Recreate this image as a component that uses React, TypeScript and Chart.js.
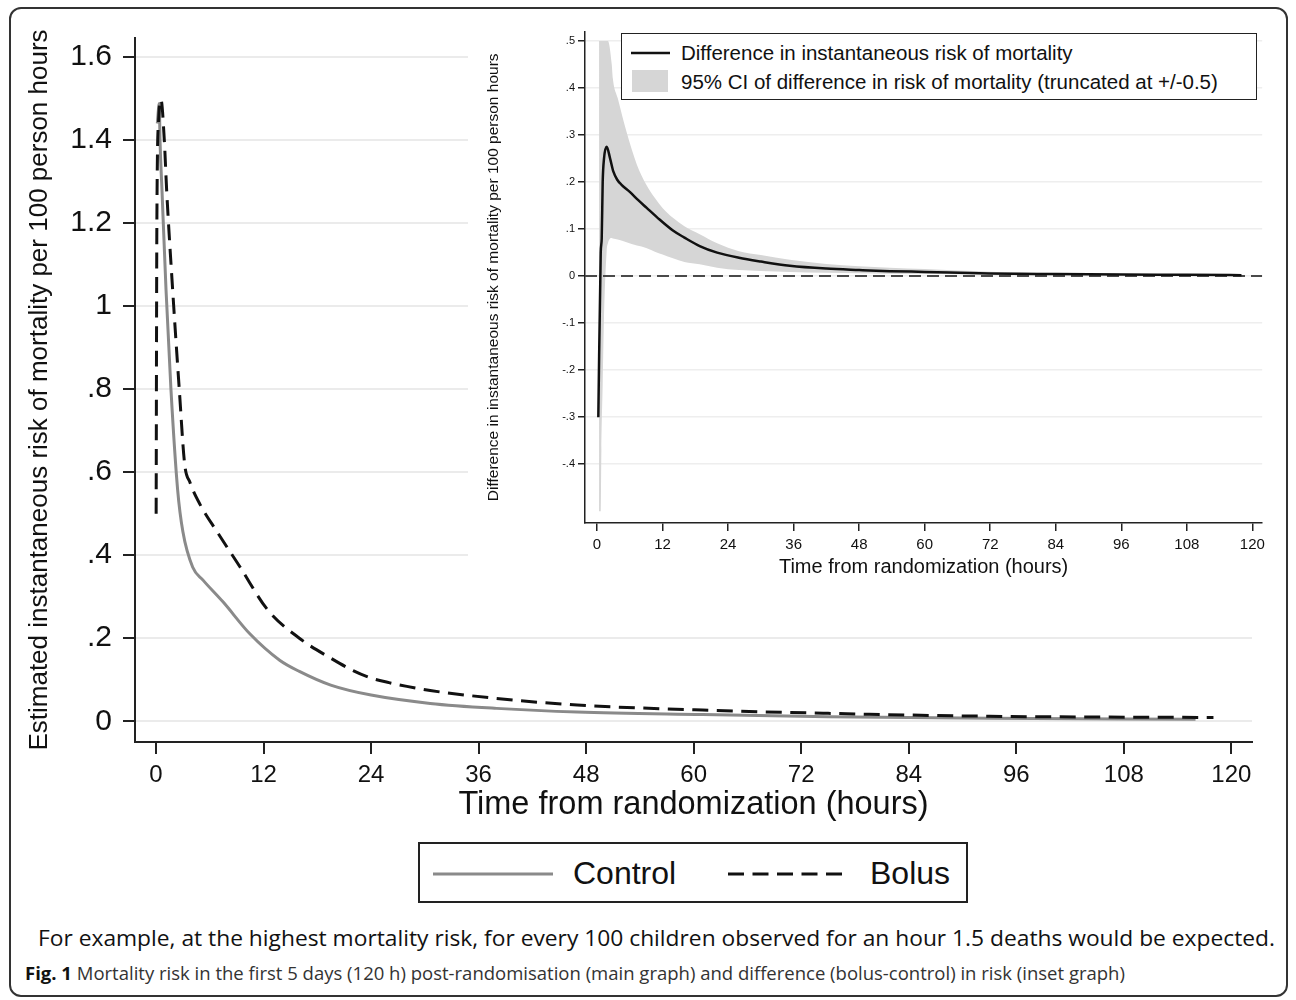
import React, { useEffect, useRef } from 'react';
import { Chart, registerables } from 'chart.js';

Chart.register(...registerables);

// ---------- data ----------
const controlHours = [0.15, 0.37, 0.45, 0.67, 1.12, 1.67, 2.42, 3.0, 4.1, 5.25, 7.5, 10.5, 13.8, 16, 19.5, 24, 30.6, 38, 47, 61, 75, 93, 116];
const controlRisk = [1.44, 1.488, 1.4, 1.28, 1.04, 0.8, 0.557, 0.457, 0.371, 0.34, 0.287, 0.21, 0.147, 0.12, 0.087, 0.063, 0.043, 0.031, 0.022, 0.016, 0.011, 0.007, 0.005];

const bolusHours = [0.02, 0.1, 0.3, 0.56, 0.93, 1.19, 1.86, 2.6, 3.2, 3.8, 4.9, 6.8, 9.4, 12.4, 16, 19.5, 22, 24, 26, 28, 30.6, 38, 47, 61, 75, 93, 118];
const bolusRisk = [0.5, 1.2, 1.45, 1.497, 1.4, 1.28, 1.04, 0.8, 0.62, 0.575, 0.523, 0.457, 0.371, 0.27, 0.2, 0.152, 0.122, 0.104, 0.093, 0.084, 0.074, 0.055, 0.039, 0.027, 0.019, 0.012, 0.009];

const diffHours = [0.24, 0.68, 0.86, 1.04, 1.28, 1.77, 2.4, 3.0, 3.7, 4.5, 6, 7.5, 9.1, 11, 13.9, 16, 18.8, 22, 26, 30, 35.3, 42, 48, 53.6, 60, 71.8, 84, 96, 108, 118];
const diffRisk = [-0.3, 0.05, 0.08, 0.2, 0.25, 0.275, 0.25, 0.222, 0.205, 0.194, 0.179, 0.162, 0.145, 0.125, 0.097, 0.082, 0.064, 0.05, 0.039, 0.031, 0.022, 0.016, 0.013, 0.0106, 0.009, 0.0057, 0.0045, 0.0035, 0.0028, 0.002];

const ciHours = [0.37, 0.68, 0.8, 1.04, 1.28, 1.77, 2.0, 2.7, 2.9, 3.8, 5.4, 7.3, 9.0, 10.6, 12, 13.9, 16, 18.8, 22, 26, 30, 35.3, 42, 48, 53.6, 60, 66, 72, 77, 84, 96, 108, 118];
const ciUpper = [0.5, 0.5, 0.5, 0.5, 0.5, 0.5, 0.5, 0.45, 0.42, 0.378, 0.307, 0.237, 0.195, 0.166, 0.145, 0.124, 0.106, 0.089, 0.07, 0.053, 0.045, 0.035, 0.026, 0.021, 0.018, 0.015, 0.012, 0.0095, 0.008, 0.0065, 0.005, 0.0035, 0.0025];
const ciLower = [-0.5, -0.5, -0.37, -0.23, -0.088, 0.053, 0.07, 0.081, 0.08, 0.078, 0.072, 0.065, 0.06, 0.052, 0.046, 0.038, 0.03, 0.025, 0.018, 0.013, 0.011, 0.009, 0.007, 0.006, 0.005, 0.0045, 0.004, 0.0035, 0.003, 0.003, 0.0025, 0.002, 0.0015];

const zeroReference = 0;

const xTickValues = [0, 12, 24, 36, 48, 60, 72, 84, 96, 108, 120];
const xTickLabels = ['0', '12', '24', '36', '48', '60', '72', '84', '96', '108', '120'];
const mainYTickValues = [0, 0.2, 0.4, 0.6, 0.8, 1, 1.2, 1.4, 1.6];
const mainYTickLabels = ['0', '.2', '.4', '.6', '.8', '1', '1.2', '1.4', '1.6'];
const insetYTickValues = [-0.4, -0.3, -0.2, -0.1, 0, 0.1, 0.2, 0.3, 0.4, 0.5];
const insetYTickLabels = ['-.4', '-.3', '-.2', '-.1', '0', '.1', '.2', '.3', '.4', '.5'];

const mainXRange = [-2.34, 122.3];
const mainYRange = [-0.05, 1.646];
const insetXRange = [-2.2, 121.8];
const insetYRange = [-0.525, 0.52];

const mainTitleX = 'Time from randomization (hours)';
const mainTitleY = 'Estimated instantaneous risk of mortality per 100 person hours';
const insetTitleX = 'Time from randomization (hours)';
const insetTitleY = 'Difference in instantaneous risk of mortality per 100 person hours';

// ---------- styling ----------
const FONT = "'Liberation Sans', Arial, Helvetica, sans-serif";
const INK = '#111111';
const AXIS = '#222222';

function pts(xs: number[], ys: number[]) {
  return xs.map((x, i) => ({ x, y: ys[i] }));
}

function MainChart() {
  const ref = useRef<HTMLCanvasElement>(null);
  useEffect(() => {
    if (!ref.current) return;
    const chart = new Chart(ref.current, {
      type: 'line',
      data: {
        datasets: [
          {
            label: 'Bolus',
            data: pts(bolusHours, bolusRisk),
            borderColor: '#111111',
            borderWidth: 3,
            borderDash: [16, 8.5],
            pointRadius: 0,
            cubicInterpolationMode: 'monotone',
            fill: false,
          },
          {
            label: 'Control',
            data: pts(controlHours, controlRisk),
            borderColor: '#8a8a8a',
            borderWidth: 3,
            pointRadius: 0,
            cubicInterpolationMode: 'monotone',
            fill: false,
          },
        ],
      },
      options: {
        responsive: false,
        animation: false,
        events: [],
        layout: { padding: { left: 16, right: 44, top: 38, bottom: 0 } },
        plugins: { legend: { display: false }, tooltip: { enabled: false } },
        scales: {
          x: {
            type: 'linear',
            min: mainXRange[0],
            max: mainXRange[1],
            afterBuildTicks: (s: any) => {
              s.ticks = xTickValues.map((v) => ({ value: v }));
            },
            afterFit: (s: any) => {
              s.height = 98;
            },
            ticks: {
              autoSkip: false,
              maxRotation: 0,
              padding: 7,
              color: INK,
              font: { family: FONT, size: 24 },
              callback: (_v: any, i: number) => xTickLabels[i],
            },
            grid: { drawOnChartArea: false, color: AXIS, tickColor: AXIS, tickLength: 12, tickWidth: 2, lineWidth: 2 },
            border: { color: AXIS, width: 2 },
            title: { display: true, text: mainTitleX, color: INK, font: { family: FONT, size: 32.5 }, padding: { top: 0, bottom: 15 } },
          },
          y: {
            type: 'linear',
            min: mainYRange[0],
            max: mainYRange[1],
            afterBuildTicks: (s: any) => {
              s.ticks = mainYTickValues.map((v) => ({ value: v }));
            },
            afterFit: (s: any) => {
              s.width = 135 - 16;
            },
            ticks: {
              autoSkip: false,
              padding: 11,
              color: INK,
              font: { family: FONT, size: 30 },
              callback: (_v: any, i: number) => mainYTickLabels[i],
            },
            grid: { color: '#ebebeb', lineWidth: 2, tickColor: AXIS, tickLength: 12, tickWidth: 2 },
            border: { color: AXIS, width: 2 },
            title: { display: true, text: mainTitleY, color: INK, font: { family: FONT, size: 26 }, padding: { top: 8, bottom: 0 } },
          },
        },
      },
    } as any);
    return () => chart.destroy();
  }, []);
  return <canvas ref={ref} width={1296} height={840} style={{ position: 'absolute', left: 0, top: 0 }} />;
}

function InsetChart() {
  const ref = useRef<HTMLCanvasElement>(null);
  useEffect(() => {
    if (!ref.current) return;
    const chart = new Chart(ref.current, {
      type: 'line',
      data: {
        datasets: [
          {
            label: 'Difference in instantaneous risk of mortality',
            data: pts(diffHours, diffRisk),
            borderColor: '#111111',
            borderWidth: 2.5,
            pointRadius: 0,
            cubicInterpolationMode: 'monotone',
            fill: false,
          },
          {
            label: 'zero',
            data: [
              { x: insetXRange[0], y: zeroReference },
              { x: insetXRange[1], y: zeroReference },
            ],
            borderColor: '#4a4a4a',
            borderWidth: 2,
            borderDash: [12, 6],
            pointRadius: 0,
            fill: false,
          },
          {
            label: '95% CI upper',
            data: pts(ciHours, ciUpper),
            borderColor: 'rgba(0,0,0,0)',
            borderWidth: 0,
            backgroundColor: '#d6d6d6',
            pointRadius: 0,
            cubicInterpolationMode: 'monotone',
            fill: '+1',
          },
          {
            label: '95% CI lower',
            data: pts(ciHours, ciLower),
            borderColor: 'rgba(0,0,0,0)',
            borderWidth: 0,
            pointRadius: 0,
            cubicInterpolationMode: 'monotone',
            fill: false,
          },
        ],
      },
      options: {
        responsive: false,
        animation: false,
        events: [],
        layout: { padding: { left: 13, right: 7, top: 8, bottom: 0 } },
        plugins: { legend: { display: false }, tooltip: { enabled: false } },
        scales: {
          x: {
            type: 'linear',
            min: insetXRange[0],
            max: insetXRange[1],
            afterBuildTicks: (s: any) => {
              s.ticks = xTickValues.map((v) => ({ value: v }));
            },
            afterFit: (s: any) => {
              s.height = 67;
            },
            ticks: {
              autoSkip: false,
              maxRotation: 0,
              padding: 5,
              color: INK,
              font: { family: FONT, size: 15 },
              callback: (_v: any, i: number) => xTickLabels[i],
            },
            grid: { drawOnChartArea: false, color: AXIS, tickColor: AXIS, tickLength: 8, tickWidth: 1.5, lineWidth: 1.5 },
            border: { color: AXIS, width: 1.5 },
            title: { display: true, text: insetTitleX, color: INK, font: { family: FONT, size: 20 }, padding: { top: 0, bottom: 11 } },
          },
          y: {
            type: 'linear',
            min: insetYRange[0],
            max: insetYRange[1],
            afterBuildTicks: (s: any) => {
              s.ticks = insetYTickValues.map((v) => ({ value: v }));
            },
            afterFit: (s: any) => {
              s.width = 585 - 468 - 13;
            },
            ticks: {
              autoSkip: false,
              padding: 3,
              color: INK,
              font: { family: FONT, size: 11 },
              callback: (_v: any, i: number) => insetYTickLabels[i],
            },
            grid: { color: '#eeeeee', lineWidth: 1.5, tickColor: AXIS, tickLength: 7, tickWidth: 1.5 },
            border: { color: AXIS, width: 1.5 },
            title: { display: true, text: insetTitleY, color: INK, font: { family: FONT, size: 15.5 }, padding: { top: 3, bottom: 0 } },
          },
        },
      },
    } as any);
    return () => chart.destroy();
  }, []);
  return (
    <canvas
      ref={ref}
      width={802}
      height={568}
      style={{ position: 'absolute', left: 468, top: 22, background: '#ffffff' }}
    />
  );
}

function FitText({ width, style, children }: { width: number; style: React.CSSProperties; children: React.ReactNode }) {
  const ref = useRef<HTMLDivElement>(null);
  useEffect(() => {
    const el = ref.current;
    if (!el) return;
    el.style.transform = 'none';
    const w = el.scrollWidth;
    if (w > 0) el.style.transform = `scaleX(${width / w})`;
  }, [width]);
  return (
    <div ref={ref} style={{ position: 'absolute', whiteSpace: 'nowrap', transformOrigin: '0 0', ...style }}>
      {children}
    </div>
  );
}

export default function App() {
  return (
    <div style={{ position: 'absolute', left: 0, top: 0, width: 1296, height: 1000, background: '#ffffff', overflow: 'hidden' }}>
      <div
        style={{
          position: 'absolute',
          left: 9,
          top: 7,
          width: 1279,
          height: 990,
          boxSizing: 'border-box',
          border: '2px solid #333333',
          borderRadius: 12,
        }}
      />
      <MainChart />
      <InsetChart />

      {/* inset legend */}
      <div
        style={{
          position: 'absolute',
          left: 621,
          top: 33,
          width: 636,
          height: 67,
          boxSizing: 'border-box',
          border: '1.5px solid #222222',
          background: '#ffffff',
          fontFamily: FONT,
          fontSize: 20.5,
          color: INK,
        }}
      >
        <svg width={50} height={67} style={{ position: 'absolute', left: 0, top: 0 }}>
          <line x1={9} y1={19} x2={48} y2={19} stroke="#111111" strokeWidth={2.5} />
          <rect x={10} y={36} width={36} height={22} fill="#d6d6d6" />
        </svg>
        <div style={{ position: 'absolute', left: 59, top: 6, lineHeight: '26px', whiteSpace: 'nowrap' }}>
          Difference in instantaneous risk of mortality
        </div>
        <div style={{ position: 'absolute', left: 59, top: 35, lineHeight: '26px', whiteSpace: 'nowrap' }}>
          95% CI of difference in risk of mortality (truncated at +/-0.5)
        </div>
      </div>

      {/* main legend */}
      <div
        style={{
          position: 'absolute',
          left: 418,
          top: 842,
          width: 550,
          height: 61,
          boxSizing: 'border-box',
          border: '2px solid #222222',
          background: '#ffffff',
          fontFamily: FONT,
          fontSize: 32,
          color: INK,
        }}
      >
        <svg width={550} height={61} style={{ position: 'absolute', left: -2, top: -2 }}>
          <line x1={15} y1={32} x2={135} y2={32} stroke="#8a8a8a" strokeWidth={3} />
          <line x1={310} y1={32} x2={432} y2={32} stroke="#111111" strokeWidth={3} strokeDasharray="16 8.5" />
        </svg>
        <div style={{ position: 'absolute', left: 153, top: 11, lineHeight: '36px', whiteSpace: 'nowrap' }}>Control</div>
        <div style={{ position: 'absolute', left: 450, top: 11, lineHeight: '36px', whiteSpace: 'nowrap' }}>Bolus</div>
      </div>

      <FitText width={1237} style={{ left: 38, top: 922, fontFamily: "'Open Sans', 'Noto Sans', sans-serif", fontSize: 22, lineHeight: '30px', color: '#111111' }}>
        For example, at the highest mortality risk, for every 100 children observed for an hour 1.5 deaths would be expected.
      </FitText>
      <FitText width={1100} style={{ left: 25, top: 961, fontFamily: "'Open Sans', 'Noto Sans', sans-serif", fontSize: 18, lineHeight: '24px', color: '#333333' }}>
        <b style={{ color: '#111111' }}>Fig. 1</b> Mortality risk in the first 5 days (120 h) post-randomisation (main graph) and difference (bolus-control) in risk (inset graph)
      </FitText>
    </div>
  );
}
